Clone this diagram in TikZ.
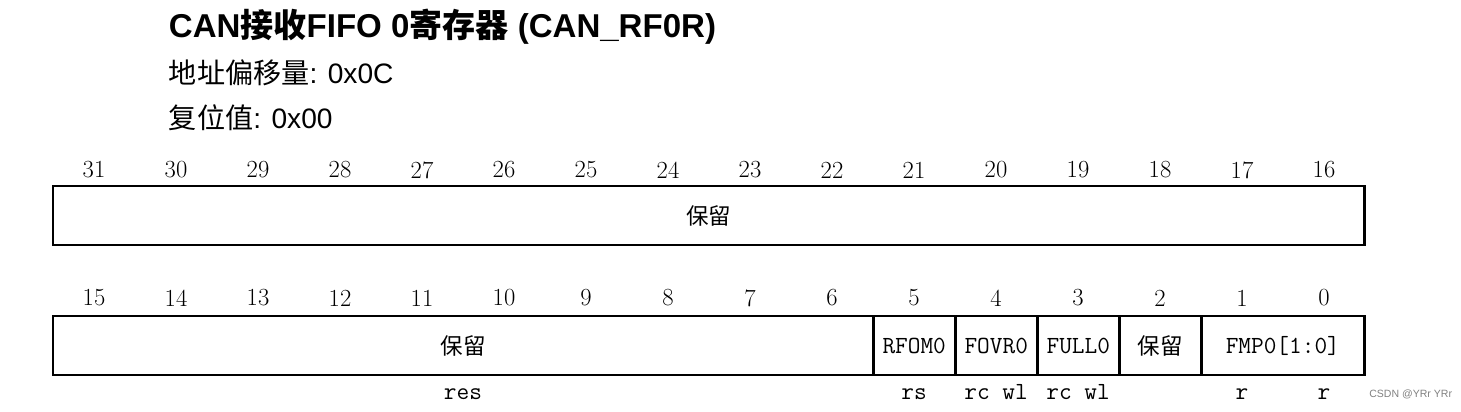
\documentclass[tikz,border=0pt]{standalone}
\usepackage{fontspec}
\usepackage{tikz}
\usetikzlibrary{positioning,calc}
\newfontfamily\latinsans{Liberation Sans}
\newfontfamily\cjksans{Noto Sans CJK SC}
\newfontfamily\fieldmono{Latin Modern Mono}
\newcommand{\zh}[1]{{\cjksans #1}}

\begin{document}
\begin{tikzpicture}[x=0.025cm, y=-0.025cm,
    field/.style={draw, line width=2.1pt, minimum height=1.475cm, inner sep=0pt, outer sep=0pt, anchor=west},
    bitnum/.style={font=\fontsize{17.5}{20}\selectfont},
    fname/.style={font=\fieldmono\fontsize{17.5}{20}\selectfont},
    acc/.style={font=\fieldmono\fontsize{17.5}{20}\selectfont, anchor=base},
    zhname/.style={font=\cjksans\fontsize{16}{18}\selectfont},
    head/.style={anchor=base west, font=\latinsans\fontsize{20}{22}\selectfont},
]
\useasboundingbox (0,0) rectangle (1461,412);

% title and header lines
\node[head, font=\latinsans\bfseries\fontsize{23.5}{26}\selectfont] (title) at (164,38)
    {CAN{\cjksans\bfseries 接收}FIFO 0{\cjksans\bfseries 寄存器} (CAN\_RF0R)};
\node[head] (offset) at (164,84) {\zh{地址偏移量}: 0x0C};
\node[head] (reset) at (164,129) {\zh{复位值}: 0x00};

% bit numbers
\foreach \k in {0,...,15} {
    \pgfmathtruncatemacro{\hi}{31-\k}
    \pgfmathtruncatemacro{\lo}{15-\k}
    \node[bitnum] (b\hi) at (94+82*\k,170) {\hi};
    \node[bitnum] (b\lo) at (94+82*\k,298) {\lo};
}

% upper half word
\node[field, minimum width=32.775cm] (res31) at (53,215.5) {};
\node[zhname] (res31t) at (res31.center) {保留};

% lower half word
\node[field, minimum width=20.5cm] (res15) at (53,345.5) {};
\node[zhname] (res15t) at (res15.center) {保留};
\node[field, minimum width=2.05cm, fname] (rfom) at (res15.east) {RFOM0};
\node[field, minimum width=2.05cm, fname] (fovr) at (rfom.east) {FOVR0};
\node[field, minimum width=2.05cm, fname] (full) at (fovr.east) {FULL0};
\node[field, minimum width=2.05cm, zhname] (res2) at (full.east) {保留};
\node[field, minimum width=4.075cm, fname] (fmp) at (res2.east) {FMP0[1:0]};

% access types
\node[acc] (a15) at (463,399) {res};
\node[acc] (a5) at (b5 |- a15.base) {rs};
\node[acc] (a4) at (b4 |- a15.base) {rc wl};
\node[acc] (a3) at (b3 |- a15.base) {rc wl};
\node[acc] (a1) at (b1 |- a15.base) {r};
\node[acc] (a0) at (b0 |- a15.base) {r};

\node[anchor=base west, text=gray, inner sep=0pt, font=\latinsans\fontsize{7.5}{9}\selectfont] (mark) at (1369,397) {CSDN @YRr YRr};
\end{tikzpicture}
\end{document}
